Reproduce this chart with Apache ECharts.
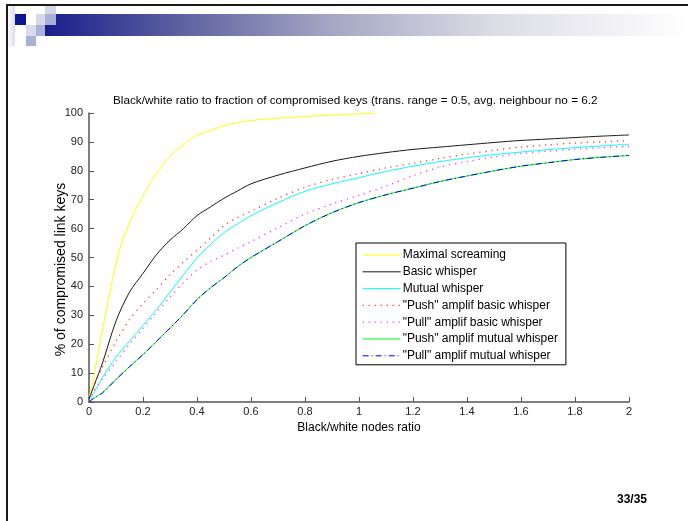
<!DOCTYPE html>
<html>
<head>
<meta charset="utf-8">
<script src="https://cdn.jsdelivr.net/npm/echarts@6/dist/echarts.min.js"></script>
<style>
html,body{margin:0;padding:0;background:#fff;}
#chart{width:688px;height:521px;}
</style>
</head>
<body>
<div id="chart"></div>
<script>
// ---- data ----
const seriesNames = [
  'Maximal screaming',
  'Basic whisper',
  'Mutual whisper',
  '"Push" amplif basic whisper',
  '"Pull" amplif basic whisper',
  '"Push" amplif mutual whisper',
  '"Pull" amplif mutual whisper'
];
const xTicks = [0, 0.2, 0.4, 0.6, 0.8, 1, 1.2, 1.4, 1.6, 1.8, 2];
const yTicks = [0, 10, 20, 30, 40, 50, 60, 70, 80, 90, 100];

const xMaximal = [0, 0.01, 0.03, 0.05, 0.075, 0.1, 0.125, 0.15, 0.175, 0.2, 0.25, 0.3, 0.35, 0.4, 0.45, 0.5, 0.55, 0.6, 0.7, 0.8, 0.9, 1.0, 1.06];
const yMaximal = [2, 5, 15, 25, 37, 48, 56, 62, 67, 71.5, 79, 85, 89, 92.3, 94, 95.6, 96.7, 97.4, 98.2, 98.8, 99.3, 99.7, 99.9];

const xRatio = [0, 0.02, 0.05, 0.1, 0.15, 0.2, 0.25, 0.3, 0.35, 0.4, 0.45, 0.5, 0.55, 0.6, 0.7, 0.8, 0.9, 1.0, 1.1, 1.2, 1.3, 1.4, 1.5, 1.6, 1.7, 1.8, 1.9, 2.0];
const yBasic      = [1, 6, 13.5, 28, 38, 44.5, 51, 56, 60, 64.5, 67.5, 70.5, 73, 75.5, 78.5, 81, 83.3, 85, 86.3, 87.4, 88.2, 89, 89.8, 90.5, 91, 91.5, 92, 92.4];
const yMutual     = [0.5, 3.5, 8.5, 15.5, 21, 26.5, 32, 38, 44, 49.8, 54.5, 58.6, 61.6, 64.5, 69, 72.9, 75.5, 77.6, 79.8, 81.6, 83.2, 84.5, 85.6, 86.5, 87.3, 88, 88.6, 89.2];
const yPushBasic  = [0.5, 6, 12, 21, 28.5, 34, 39, 44, 48.5, 52.5, 56.7, 61, 63.8, 66, 70.5, 74.3, 77, 79, 81, 82.6, 84.3, 85.8, 87.1, 88.2, 89, 89.6, 90, 90.4];
const yPullBasic  = [0.5, 4, 8, 14, 20, 25.5, 31, 36.3, 41.3, 45.6, 48.6, 50.8, 53.2, 55.5, 60.3, 65, 68.5, 71.5, 74.7, 78.3, 81.3, 83.2, 84.8, 86, 86.8, 87.4, 88, 88.5];
const yPushMutual = [0, 1.5, 3.2, 7.8, 12.2, 16.4, 21, 25.6, 30.3, 35.5, 39.5, 43, 46.8, 50, 55.5, 61, 65.5, 69, 71.7, 74, 76.3, 78.2, 80, 81.6, 82.8, 83.9, 84.7, 85.3];
const yPullMutual = [0, 1.5, 3.2, 7.8, 12.2, 16.4, 21, 25.6, 30.3, 35.4, 39.5, 43, 46.8, 50, 55.5, 61, 65.5, 69, 71.7, 74, 76.3, 78.2, 80, 81.6, 82.8, 83.9, 84.7, 85.3];

// ---- build ----
function pairs(xs, ys) { return xs.map((x, i) => [x, ys[i]]); }
const seriesData = [
  pairs(xMaximal, yMaximal),
  pairs(xRatio, yBasic),
  pairs(xRatio, yMutual),
  pairs(xRatio, yPushBasic),
  pairs(xRatio, yPullBasic),
  pairs(xRatio, yPushMutual),
  pairs(xRatio, yPullMutual)
];
const styles = [
  {color: '#ffff00', type: 'solid', width: 1},
  {color: '#1a1a1a', type: 'solid', width: 1},
  {color: '#00ffff', type: 'solid', width: 1},
  {color: '#ff3030', type: [1.2, 4.8], width: 1.3},
  {color: '#ff30ff', type: [1.2, 4.8], width: 1.3},
  {color: '#00ff00', type: 'solid', width: 1},
  {color: '#0000ff', type: [6, 3, 1, 3], width: 1}
];

const FONT = '"Liberation Sans", Arial, sans-serif';
const chart = echarts.init(document.getElementById('chart'), null, {renderer: 'canvas'});

const option = {
  backgroundColor: '#ffffff',
  animation: false,
  textStyle: {fontFamily: FONT},
  title: {
    text: 'Black/white ratio to fraction of compromised keys (trans. range = 0.5, avg. neighbour no = 6.2',
    left: 108, top: 90,
    textStyle: {fontSize: 11.75, fontWeight: 'normal', color: '#000', fontFamily: FONT}
  },
  grid: {left: 89, right: 59, top: 113, bottom: 119, containLabel: false},
  xAxis: {
    type: 'value', min: 0, max: 2, interval: 0.2,
    name: 'Black/white nodes ratio', nameLocation: 'middle', nameGap: 20,
    nameMoveOverlap: false,
    nameTextStyle: {fontSize: 12, color: '#000', fontFamily: FONT},
    axisLine: {show: true, onZero: false, lineStyle: {color: '#555', width: 1.5}},
    axisTick: {show: true, inside: true, length: 5, lineStyle: {color: '#555'}},
    axisLabel: {fontSize: 11, color: '#222', margin: 4, fontFamily: FONT,
      formatter: v => { const t = xTicks.find(k => Math.abs(k - v) < 1e-9); return t === undefined ? '' : String(t); }},
    splitLine: {show: false}
  },
  yAxis: {
    type: 'value', min: 0, max: 100, interval: 10,
    name: '% of compromised link keys', nameLocation: 'middle', nameGap: 21,
    nameMoveOverlap: false,
    nameTextStyle: {fontSize: 14, color: '#000', fontFamily: FONT, padding: [0, 24, 0, 0]},
    axisLine: {show: true, lineStyle: {color: '#555', width: 1.5}},
    axisTick: {show: true, inside: true, length: 5, lineStyle: {color: '#555'}},
    axisLabel: {fontSize: 11, color: '#222', margin: 6, fontFamily: FONT,
      formatter: v => { const t = yTicks.find(k => Math.abs(k - v) < 1e-9); return t === undefined ? '' : String(t); }},
    splitLine: {show: false}
  },
  legend: {
    orient: 'vertical', left: 356, top: 243,
    backgroundColor: '#fff', borderColor: '#000', borderWidth: 1,
    padding: [6, 8, 3, 6], itemGap: 4.8, itemWidth: 38, itemHeight: 12,
    itemStyle: {color: 'rgba(0,0,0,0)', borderWidth: 0, opacity: 0},
    textStyle: {fontSize: 12, color: '#000', fontFamily: FONT, padding: [0, 0, 0, -3]},
    data: seriesNames.map((n, i) => ({name: n, lineStyle: {color: styles[i].color, type: styles[i].type, width: styles[i].width}}))
  },
  series: seriesNames.map((n, i) => ({
    name: n, type: 'line', data: seriesData[i],
    symbol: 'none', smooth: 0.3,
    lineStyle: {color: styles[i].color, type: styles[i].type, width: styles[i].width},
    itemStyle: {color: styles[i].color},
    z: 2 + i
  })),
  graphic: [
    // left faint strip
    {type: 'rect', shape: {x: 7, y: 4, width: 8, height: 42}, silent: true,
     style: {fill: new echarts.graphic.LinearGradient(0, 0, 1, 0, [{offset: 0, color: '#ffffff'}, {offset: 1, color: '#dcdcec'}])}},
    // gradient bar
    {type: 'rect', shape: {x: 45, y: 14, width: 643, height: 22}, silent: true,
     style: {fill: new echarts.graphic.LinearGradient(0, 0, 1, 0, [
       {offset: 0, color: '#1a1e8c'}, {offset: 0.2, color: '#5a5e9e'}, {offset: 0.45, color: '#a6a8c4'},
       {offset: 0.7, color: '#dcdce6'}, {offset: 1, color: '#ffffff'}])}},
    {type: 'rect', shape: {x: 15, y: 14, width: 11, height: 11}, silent: true, style: {fill: '#0c1690'}},
    {type: 'rect', shape: {x: 45, y: 4, width: 11, height: 10}, silent: true, style: {fill: '#d4d6ea'}},
    {type: 'rect', shape: {x: 36, y: 14, width: 9, height: 11}, silent: true, style: {fill: '#d8d8ec'}},
    {type: 'rect', shape: {x: 45, y: 14, width: 11, height: 11}, silent: true, style: {fill: '#aab0d8'}},
    {type: 'rect', shape: {x: 26, y: 25, width: 10, height: 11}, silent: true, style: {fill: '#dadaee'}},
    {type: 'rect', shape: {x: 36, y: 25, width: 9, height: 11}, silent: true, style: {fill: '#aab0d8'}},
    {type: 'rect', shape: {x: 26, y: 36, width: 10, height: 10}, silent: true, style: {fill: '#aab0d8'}},
    // slide borders
    {type: 'line', shape: {x1: 6, y1: 5, x2: 688, y2: 5}, silent: true, style: {stroke: '#1a1a1a', lineWidth: 2}},
    {type: 'line', shape: {x1: 7, y1: 4, x2: 7, y2: 521}, silent: true, style: {stroke: '#1a1a1a', lineWidth: 2}},
    // page number
    {type: 'text', left: 617, top: 494, silent: true,
     style: {text: '33/35', font: 'bold 12px "Liberation Sans", Arial, sans-serif', fill: '#000'}}
  ]
};
chart.setOption(option);
</script>
</body>
</html>
